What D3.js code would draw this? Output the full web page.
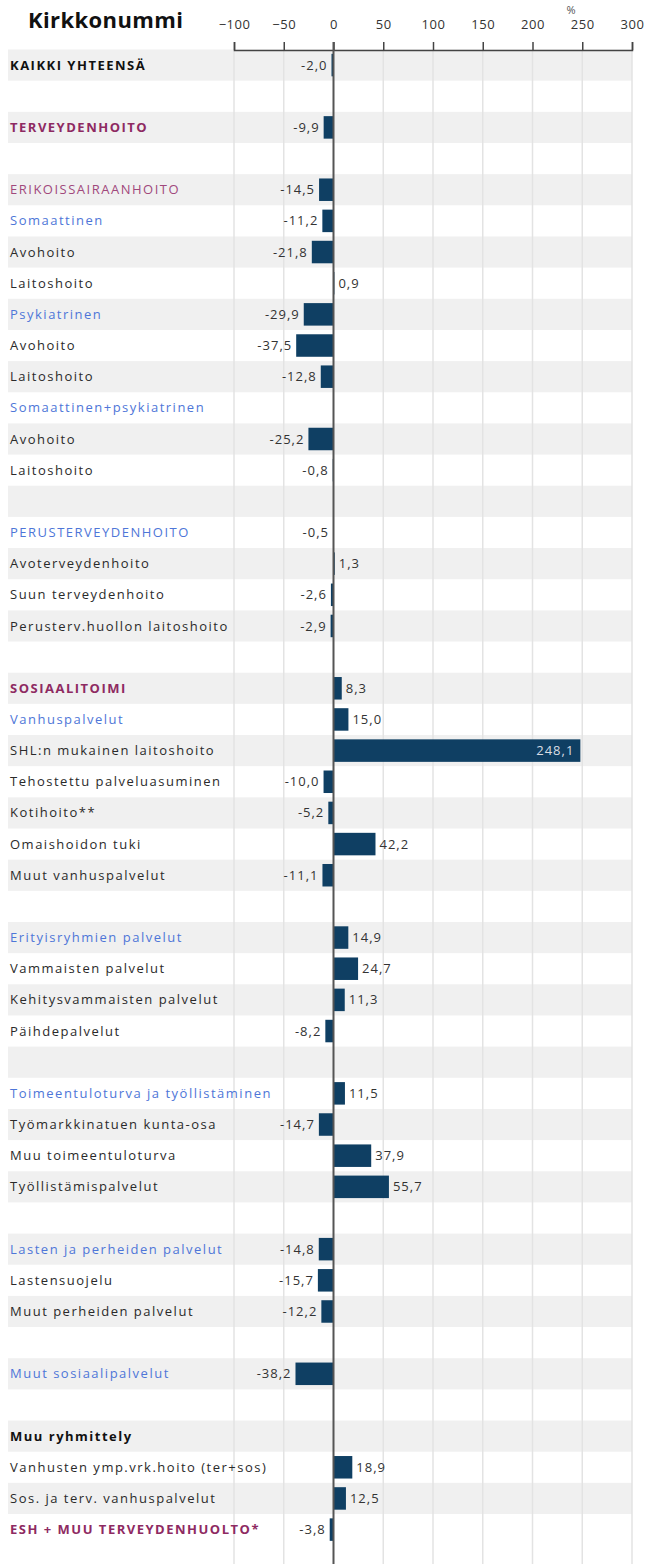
<!DOCTYPE html>
<meta charset="utf-8">
<html>
<head>
<script src="https://d3js.org/d3.v7.min.js"></script>
<style>
  body { margin: 0; background: #fff; }
  svg { display: block; font-family: "Open Sans", sans-serif; }
  .lbl { font-size: 13px; letter-spacing: 1.5px; }
  .val { font-size: 13px; fill: #333; letter-spacing: 1px; }
  .axis text { font-size: 13px; fill: #333; letter-spacing: 0.5px; }
</style>
</head>
<body>
<svg width="647" height="1564"></svg>
<script>
// rivien nimet, arvot (%) ja tyylit
var categories = [
  "KAIKKI YHTEENSÄ", "", "TERVEYDENHOITO", "",
  "ERIKOISSAIRAANHOITO", "Somaattinen", "Avohoito", "Laitoshoito",
  "Psykiatrinen", "Avohoito", "Laitoshoito", "Somaattinen+psykiatrinen",
  "Avohoito", "Laitoshoito", "",
  "PERUSTERVEYDENHOITO", "Avoterveydenhoito", "Suun terveydenhoito", "Perusterv.huollon laitoshoito", "",
  "SOSIAALITOIMI", "Vanhuspalvelut", "SHL:n mukainen laitoshoito", "Tehostettu palveluasuminen",
  "Kotihoito**", "Omaishoidon tuki", "Muut vanhuspalvelut", "",
  "Erityisryhmien palvelut", "Vammaisten palvelut", "Kehitysvammaisten palvelut", "Päihdepalvelut", "",
  "Toimeentuloturva ja työllistäminen", "Työmarkkinatuen kunta-osa", "Muu toimeentuloturva", "Työllistämispalvelut", "",
  "Lasten ja perheiden palvelut", "Lastensuojelu", "Muut perheiden palvelut", "",
  "Muut sosiaalipalvelut", "",
  "Muu ryhmittely", "Vanhusten ymp.vrk.hoito (ter+sos)", "Sos. ja terv. vanhuspalvelut", "ESH + MUU TERVEYDENHUOLTO*"
];

var values = [
  -2.0, null, -9.9, null,
  -14.5, -11.2, -21.8, 0.9,
  -29.9, -37.5, -12.8, null,
  -25.2, -0.8, null,
  -0.5, 1.3, -2.6, -2.9, null,
  8.3, 15.0, 248.1, -10.0,
  -5.2, 42.2, -11.1, null,
  14.9, 24.7, 11.3, -8.2, null,
  11.5, -14.7, 37.9, 55.7, null,
  -14.8, -15.7, -12.2, null,
  -38.2, null,
  null, 18.9, 12.5, -3.8
];

// total = musta lihavoitu, main = violetti lihavoitu, sub = violetti, group = sininen, item = tavallinen
var styles = [
  "total", "", "main", "",
  "sub", "group", "item", "item",
  "group", "item", "item", "group",
  "item", "item", "",
  "group", "item", "item", "item", "",
  "main", "group", "item", "item",
  "item", "item", "item", "",
  "group", "item", "item", "item", "",
  "group", "item", "item", "item", "",
  "group", "item", "item", "",
  "group", "",
  "total", "item", "item", "main"
];

var tickValues = [-100, -50, 0, 50, 100, 150, 200, 250, 300];

var colors = {
  total: "#111", main: "#8e2a62", sub: "#a0487c", group: "#4e76d8", item: "#2a2a2a", "": "#000"
};

var svg = d3.select("svg"),
    height = +svg.attr("height");

var x = d3.scaleLinear()
  .domain([-100, 300])
  .range([234, 632]);

var y = d3.scaleBand()
  .domain(d3.range(categories.length))
  .range([49.5, 49.5 + categories.length * 31.16])
  .padding(0);

var bw = y.bandwidth(),
    barH = 22.5;

// harmaat raidat
svg.append("g")
  .selectAll("rect")
  .data(d3.range(categories.length).filter(function(i) { return i % 2 == 0; }))
  .enter().append("rect")
  .attr("x", 8)
  .attr("y", function(i) { return y(i); })
  .attr("width", 624)
  .attr("height", bw)
  .attr("fill", "#f0f0f0");

// pystyviivat
svg.append("g")
  .selectAll("line")
  .data(tickValues.filter(function(d) { return d != 0; }))
  .enter().append("line")
  .attr("x1", function(d) { return x(d); })
  .attr("x2", function(d) { return x(d); })
  .attr("y1", 50)
  .attr("y2", height)
  .attr("stroke", "#e3e3e3")
  .attr("stroke-width", 1.5);

// akseli ylhäällä
var axis = svg.append("g")
  .attr("class", "axis")
  .attr("transform", "translate(0,50)")
  .call(d3.axisTop(x).tickValues(tickValues).tickSize(8).tickFormat(d3.format("d")));

axis.select(".domain").attr("stroke", "#444").attr("stroke-width", 1.5);
axis.selectAll(".tick line").attr("stroke", "#444").attr("stroke-width", 1.5);
axis.selectAll(".tick text").attr("y", -21).attr("dy", 0).attr("font-family", "Open Sans, sans-serif");

svg.append("text")
  .attr("x", 571)
  .attr("y", 14)
  .attr("text-anchor", "middle")
  .attr("font-size", 11)
  .attr("fill", "#555")
  .text("%");

// otsikko
svg.append("text")
  .attr("x", 28)
  .attr("y", 28)
  .attr("font-size", 22)
  .attr("font-weight", "bold")
  .attr("letter-spacing", "0.4px")
  .attr("fill", "#111")
  .text("Kirkkonummi");

// palkit
var rows = d3.range(categories.length).filter(function(i) { return values[i] != null; });

svg.append("g")
  .selectAll("rect")
  .data(rows)
  .enter().append("rect")
  .attr("x", function(i) { return x(Math.min(0, values[i])); })
  .attr("y", function(i) { return y(i) + (bw - barH) / 2; })
  .attr("width", function(i) { return Math.abs(x(values[i]) - x(0)); })
  .attr("height", barH)
  .attr("fill", "#0f3f63");

// nollaviiva
svg.append("line")
  .attr("x1", x(0)).attr("x2", x(0))
  .attr("y1", 42).attr("y2", height)
  .attr("stroke", "#555")
  .attr("stroke-width", 2);

// arvot
var fmt = function(v) { return d3.format(".1f")(v).replace(".", ",").replace("−", "-"); };

svg.append("g")
  .selectAll("text")
  .data(rows)
  .enter().append("text")
  .attr("class", "val")
  .attr("x", function(i) {
    var v = values[i];
    if (v > 200) return x(v) - 6;
    return v < 0 ? x(v) - 4 : x(v) + 4;
  })
  .attr("y", function(i) { return y(i) + bw / 2; })
  .attr("dy", "0.35em")
  .attr("text-anchor", function(i) { return (values[i] < 0 || values[i] > 200) ? "end" : "start"; })
  .style("fill", function(i) { return values[i] > 200 ? "#d8dde3" : null; })
  .text(function(i) { return fmt(values[i]); });

// rivien nimet
svg.append("g")
  .selectAll("text")
  .data(d3.range(categories.length).filter(function(i) { return categories[i] != ""; }))
  .enter().append("text")
  .attr("class", "lbl")
  .attr("x", 10)
  .attr("y", function(i) { return y(i) + bw / 2; })
  .attr("dy", "0.35em")
  .attr("fill", function(i) { return colors[styles[i]]; })
  .attr("font-weight", function(i) { return (styles[i] == "total" || styles[i] == "main") ? "bold" : "normal"; })
  .text(function(i) { return categories[i]; });
</script>
</body>
</html>
